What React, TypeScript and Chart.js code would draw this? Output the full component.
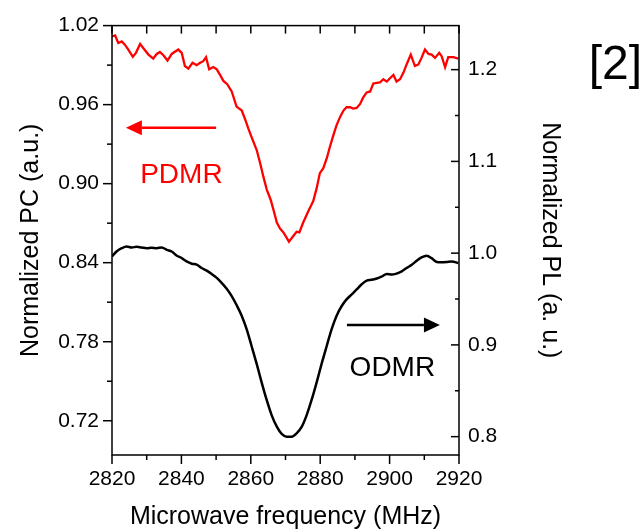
import React, { useEffect, useRef } from 'react';
import { Chart, registerables } from 'chart.js';

Chart.register(...registerables);

// PDMR (red, left axis: Normalized PC)
const pdmrFreq = [
  2820.0, 2820.9, 2821.8, 2822.8, 2823.7, 2824.7, 2826.0, 2826.9, 2828.1, 2829.0,
  2830.5, 2831.9, 2832.9, 2833.8, 2834.8, 2836.0, 2837.2, 2839.1, 2840.1, 2841.0,
  2842.0, 2843.2, 2844.4, 2845.4, 2846.3, 2847.1, 2848.0, 2849.2, 2850.2, 2851.3,
  2852.1, 2853.2, 2854.5, 2855.9, 2857.4, 2858.3, 2859.3, 2860.2, 2861.7, 2862.7,
  2863.6, 2864.6, 2865.7, 2866.5, 2867.5, 2868.4, 2869.4, 2871.0, 2872.3, 2873.2,
  2874.0, 2875.1, 2876.6, 2878.0, 2879.0, 2879.9, 2880.9, 2881.9, 2882.8, 2883.8,
  2884.7, 2885.7, 2886.7, 2887.6, 2888.6, 2889.5, 2890.5, 2891.5, 2892.4, 2893.4,
  2894.4, 2895.3, 2896.3, 2897.2, 2898.2, 2899.2, 2900.1, 2901.1, 2902.0, 2903.0,
  2904.0, 2904.9, 2906.1, 2907.3, 2908.3, 2909.2, 2910.2, 2911.2, 2912.1, 2913.1,
  2914.3, 2915.0, 2916.0, 2916.9, 2918.4, 2919.8
];
const pdmrPC = [
  1.0118, 1.0125, 1.0068, 1.0080, 1.0055, 1.0018, 0.9963, 0.9993, 1.0060, 1.0030,
  0.9980, 0.9950, 0.9985, 1.0000, 0.9975, 0.9935, 0.9985, 1.0018, 0.9993, 0.9893,
  0.9873, 0.9918, 0.9900, 0.9918, 0.9930, 0.9960, 0.9868, 0.9885, 0.9868, 0.9818,
  0.9780, 0.9755, 0.9700, 0.9585, 0.9555, 0.9493, 0.9418, 0.9355, 0.9255, 0.9155,
  0.9055, 0.8955, 0.8880, 0.8805, 0.8705, 0.8660, 0.8630, 0.8560, 0.8605, 0.8635,
  0.8630, 0.8705, 0.8793, 0.8868, 0.8968, 0.9080, 0.9118, 0.9193, 0.9280, 0.9368,
  0.9443, 0.9505, 0.9555, 0.9580, 0.9580, 0.9570, 0.9575, 0.9605, 0.9655, 0.9693,
  0.9700, 0.9760, 0.9765, 0.9768, 0.9793, 0.9775, 0.9800, 0.9825, 0.9775, 0.9793,
  0.9843, 0.9905, 0.9980, 0.9893, 0.9905, 0.9955, 1.0018, 0.9985, 0.9980, 0.9955,
  0.9993, 0.9968, 0.9885, 0.9960, 0.9960, 0.9950
];

// ODMR (black, right axis: Normalized PL)
const odmrFreq = [
  2820.0, 2821.3, 2822.8, 2824.2, 2825.7, 2827.1, 2828.5, 2830.0, 2831.4, 2832.9,
  2834.3, 2835.8, 2837.2, 2838.6, 2840.1, 2841.5, 2843.0, 2844.4, 2845.8, 2847.3,
  2848.7, 2850.2, 2851.6, 2853.0, 2854.5, 2855.9, 2857.4, 2858.8, 2860.2, 2861.7,
  2863.1, 2864.6, 2866.0, 2867.5, 2868.9, 2870.3, 2871.8, 2873.2, 2874.7, 2876.1,
  2877.5, 2879.0, 2880.4, 2881.9, 2883.3, 2884.7, 2886.2, 2887.6, 2889.1, 2890.5,
  2891.9, 2893.4, 2894.8, 2896.3, 2897.7, 2899.2, 2900.6, 2902.0, 2903.5, 2904.9,
  2906.4, 2907.8, 2909.2, 2910.7, 2912.1, 2913.6, 2915.0, 2916.4, 2917.9, 2919.8
];
const odmrPL = [
  0.9964, 1.0018, 1.0054, 1.0072, 1.0062, 1.0069, 1.0062, 1.0054, 1.0058, 1.0054,
  1.0062, 1.0036, 1.0018, 0.9975, 0.9946, 0.9910, 0.9885, 0.9874, 0.9838, 0.9809,
  0.9773, 0.9730, 0.9676, 0.9615, 0.9532, 0.9435, 0.9316, 0.9172, 0.8991, 0.8793,
  0.8595, 0.8397, 0.8235, 0.8109, 0.8029, 0.8000, 0.8000, 0.8036, 0.8109, 0.8235,
  0.8397, 0.8595, 0.8793, 0.8991, 0.9172, 0.9316, 0.9424, 0.9496, 0.9550, 0.9604,
  0.9658, 0.9701, 0.9709, 0.9723, 0.9745, 0.9773, 0.9766, 0.9777, 0.9802, 0.9838,
  0.9874, 0.9917, 0.9954, 0.9972, 0.9946, 0.9903, 0.9900, 0.9903, 0.9910, 0.9892
];

// Tick values
const xTicks = [2820, 2840, 2860, 2880, 2900, 2920];
const xMinor = [2830, 2850, 2870, 2890, 2910];
const leftTicks = [0.72, 0.78, 0.84, 0.90, 0.96, 1.02];
const leftMinor = [0.75, 0.81, 0.87, 0.93, 0.99];
const rightTicks = [0.8, 0.9, 1.0, 1.1, 1.2];
const rightMinor = [0.85, 0.95, 1.05, 1.15];

// Axis ranges
const xRange = [2820, 2920];
const leftRange = [0.694, 1.02];
const rightRange = [0.78, 1.248];

// Annotations (data coordinates)
const pdmrArrowX = [2850, 2824];
const pdmrArrowY = 0.9425;
const pdmrLabelAt = [2840, 0.9005];
const odmrArrowX = [2887.7, 2914.5];
const odmrArrowY = 0.9218;
const odmrLabelAt = [2900.8, 0.8656];

const FONT = "'Liberation Sans', Arial, Helvetica, sans-serif";
const RED = '#ff0000';

const decorPlugin = {
  id: 'decor',
  afterDraw(chart: any) {
    const { ctx, chartArea: a, scales } = chart;
    const sx = scales.x, yl = scales.yL, yr = scales.yR;
    ctx.save();
    ctx.strokeStyle = '#000';
    ctx.lineWidth = 1.5;
    ctx.strokeRect(a.left, a.top, a.right - a.left, a.bottom - a.top);
    const seg = (x1: number, y1: number, x2: number, y2: number) => {
      ctx.beginPath();
      ctx.moveTo(x1, y1);
      ctx.lineTo(x2, y2);
      ctx.stroke();
    };
    xTicks.forEach((v) => {
      const p = sx.getPixelForValue(v);
      seg(p, a.bottom, p, a.bottom + 9);
      seg(p, a.top, p, a.top + 8);
    });
    xMinor.forEach((v) => {
      const p = sx.getPixelForValue(v);
      seg(p, a.bottom, p, a.bottom + 5);
      seg(p, a.top, p, a.top + 8);
    });
    leftTicks.forEach((v) => {
      const p = yl.getPixelForValue(v);
      seg(a.left - 9, p, a.left, p);
    });
    leftMinor.forEach((v) => {
      const p = yl.getPixelForValue(v);
      seg(a.left - 5, p, a.left, p);
    });
    rightTicks.forEach((v) => {
      const p = yr.getPixelForValue(v);
      seg(a.right - 8, p, a.right, p);
    });
    rightMinor.forEach((v) => {
      const p = yr.getPixelForValue(v);
      seg(a.right - 4, p, a.right, p);
    });

    const arrow = (x0: number, x1: number, y: number, color: string) => {
      const dir = Math.sign(x1 - x0);
      const headLen = 16, hw = 7.5;
      ctx.strokeStyle = color;
      ctx.fillStyle = color;
      ctx.lineWidth = 2.5;
      seg(x0, y, x1 - dir * headLen, y);
      ctx.beginPath();
      ctx.moveTo(x1, y);
      ctx.lineTo(x1 - dir * headLen, y - hw);
      ctx.lineTo(x1 - dir * headLen, y + hw);
      ctx.closePath();
      ctx.fill();
    };
    arrow(sx.getPixelForValue(pdmrArrowX[0]), sx.getPixelForValue(pdmrArrowX[1]), yl.getPixelForValue(pdmrArrowY), RED);
    arrow(sx.getPixelForValue(odmrArrowX[0]), sx.getPixelForValue(odmrArrowX[1]), yr.getPixelForValue(odmrArrowY), '#000');

    ctx.font = `28px ${FONT}`;
    ctx.textAlign = 'center';
    ctx.textBaseline = 'alphabetic';
    ctx.fillStyle = RED;
    ctx.fillText('PDMR', sx.getPixelForValue(pdmrLabelAt[0]), yl.getPixelForValue(pdmrLabelAt[1]));
    ctx.fillStyle = '#000';
    ctx.fillText('ODMR', sx.getPixelForValue(odmrLabelAt[0]), yr.getPixelForValue(odmrLabelAt[1]));

    ctx.font = `48px ${FONT}`;
    ctx.textAlign = 'right';
    ctx.fillText('[2]', chart.width, 79);
    ctx.restore();
  },
};

export default function App() {
  const ref = useRef<HTMLCanvasElement | null>(null);

  useEffect(() => {
    document.body.style.margin = '0';
    const canvas = ref.current;
    if (!canvas) return;
    Chart.defaults.font.family = FONT;
    const chart = new Chart(canvas, {
      type: 'line',
      data: {
        datasets: [
          {
            label: 'PDMR',
            data: pdmrFreq.map((f, i) => ({ x: f, y: pdmrPC[i] })),
            borderColor: RED,
            borderWidth: 2.3,
            pointRadius: 0,
            tension: 0,
            yAxisID: 'yL',
          },
          {
            label: 'ODMR',
            data: odmrFreq.map((f, i) => ({ x: f, y: odmrPL[i] })),
            borderColor: '#000',
            borderWidth: 2.5,
            pointRadius: 0,
            cubicInterpolationMode: 'monotone',
            yAxisID: 'yR',
          },
        ],
      },
      options: {
        animation: false,
        responsive: false,
        devicePixelRatio: 1,
        layout: { padding: { top: 22, left: 0, right: 0, bottom: 0 } },
        plugins: { legend: { display: false }, tooltip: { enabled: false } },
        scales: {
          x: {
            type: 'linear',
            position: 'bottom',
            min: xRange[0],
            max: xRange[1],
            grid: { display: false, drawTicks: false },
            border: { display: false },
            afterBuildTicks: (s: any) => { s.ticks = xTicks.map((value) => ({ value })); },
            afterFit: (s: any) => { s.height = 77; },
            ticks: {
              padding: 12,
              color: '#000',
              font: { size: 21 },
              maxRotation: 0,
              callback: (v: any) => String(v),
            },
            title: {
              display: true,
              text: 'Microwave frequency (MHz)',
              color: '#000',
              font: { size: 25 },
              padding: { top: 0, bottom: 0 },
            },
          },
          yL: {
            type: 'linear',
            position: 'left',
            min: leftRange[0],
            max: leftRange[1],
            grid: { display: false, drawTicks: false },
            border: { display: false },
            afterBuildTicks: (s: any) => { s.ticks = leftTicks.map((value) => ({ value })); },
            afterFit: (s: any) => { s.width = 112; },
            ticks: {
              padding: 13,
              color: '#000',
              font: { size: 21 },
              callback: (v: any) => Number(v).toFixed(2),
            },
            title: {
              display: true,
              text: 'Normalized PC (a.u.)',
              color: '#000',
              font: { size: 25 },
              padding: { top: 16, bottom: 0 },
            },
          },
          yR: {
            type: 'linear',
            position: 'right',
            min: rightRange[0],
            max: rightRange[1],
            grid: { display: false, drawTicks: false },
            border: { display: false },
            afterBuildTicks: (s: any) => { s.ticks = rightTicks.map((value) => ({ value })); },
            afterFit: (s: any) => { s.width = 183; },
            ticks: {
              padding: 9,
              color: '#000',
              font: { size: 21 },
              callback: (v: any) => Number(v).toFixed(1),
            },
            title: {
              display: true,
              text: 'Normalized PL (a. u.)',
              color: '#000',
              font: { size: 25 },
              padding: { top: 77, bottom: 0 },
            },
          },
        },
      },
      plugins: [decorPlugin],
    } as any);
    return () => chart.destroy();
  }, []);

  return (
    <div style={{ width: 642, height: 532 }}>
      <canvas ref={ref} width={642} height={532} style={{ display: 'block' }} />
    </div>
  );
}
